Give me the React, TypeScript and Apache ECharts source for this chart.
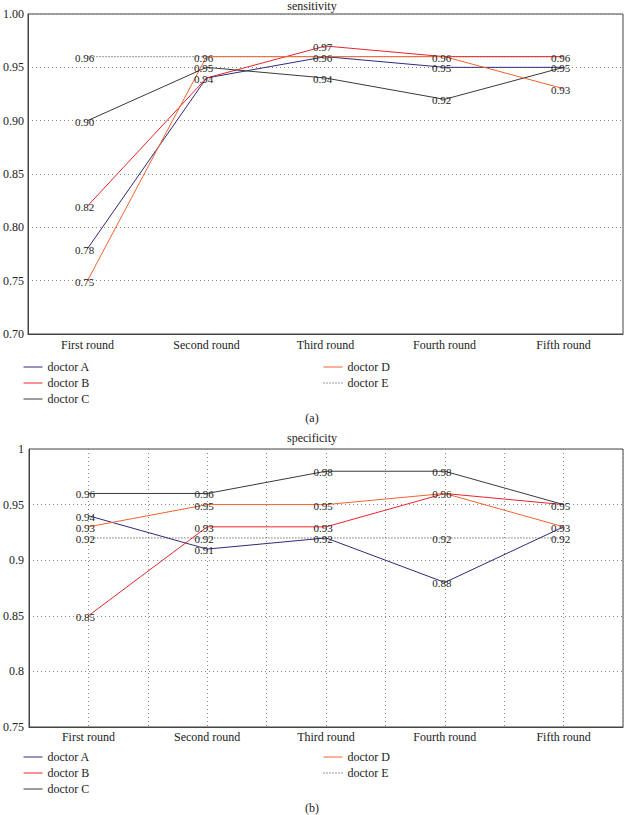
import React, { useEffect, useRef } from "react";
import * as echarts from "echarts";

const categories = ["First round", "Second round", "Third round", "Fourth round", "Fifth round"];
const doctors = ["doctor A", "doctor B", "doctor C", "doctor D", "doctor E"];
const colors = ["#2e2a78", "#e8252b", "#3a3a3a", "#f3622f", "#333333"];

const sensA = [0.78, 0.94, 0.96, 0.95, 0.95];
const sensB = [0.82, 0.94, 0.97, 0.96, 0.96];
const sensC = [0.9, 0.95, 0.94, 0.92, 0.95];
const sensD = [0.75, 0.96, 0.96, 0.96, 0.93];
const sensE = [0.96, 0.96, 0.96, 0.96, 0.96];

const specA = [0.94, 0.91, 0.92, 0.88, 0.93];
const specB = [0.85, 0.93, 0.93, 0.96, 0.95];
const specC = [0.96, 0.96, 0.98, 0.98, 0.95];
const specD = [0.93, 0.95, 0.95, 0.96, 0.93];
const specE = [0.92, 0.92, 0.92, 0.92, 0.92];

const FONT = "'Liberation Serif', 'DejaVu Serif', serif";
const TXT = "#222";

function buildSeries(values: number[][], gridIdx: number, xAxisIndex: number) {
  return values.map((arr, i) => ({
    type: "line",
    name: doctors[i],
    xAxisIndex,
    yAxisIndex: gridIdx,
    symbol: "circle",
    symbolSize: 0,
    showSymbol: true,
    color: colors[i],
    lineStyle: {
      color: colors[i],
      width: 1,
      type: i === 4 ? [1, 2] : "solid",
    },
    label: {
      position: "inside",
      offset: [-3, 1],
      fontFamily: FONT,
      fontSize: 11,
      color: TXT,
      formatter: (p: any) => Number(p.value).toFixed(2),
    },
    data: arr.map((v, j) => ({
      value: v,
      label: { show: !values.slice(0, i).some((a) => a[j] === v) },
    })),
    z: i === 4 ? 1 : 2,
  }));
}

const gridLine = { show: true, lineStyle: { color: "#888", width: 1, type: [1, 3] } };

export default function App() {
  const ref = useRef<HTMLDivElement>(null);
  useEffect(() => {
    if (!ref.current) return;
    const chart = echarts.init(ref.current, undefined, { renderer: "svg" });
    const legendCommon = {
      orient: "vertical",
      itemWidth: 19,
      itemHeight: 10,
      itemGap: 4,
      padding: 0,
      textStyle: { fontFamily: FONT, fontSize: 12, color: TXT },
      itemStyle: { opacity: 0 },
      lineStyle: { width: 1 },
    };
    const titleText = { fontFamily: FONT, fontSize: 12, color: TXT, fontWeight: "normal" };
    chart.setOption({
      animation: false,
      backgroundColor: "#fff",
      textStyle: { fontFamily: FONT },
      title: [
        { text: "sensitivity", left: "center", top: 0, padding: 0, textStyle: titleText },
        { text: "(a)", left: "center", top: 412, padding: 0, textStyle: titleText },
        { text: "specificity", left: "center", top: 432, padding: 0, textStyle: titleText },
        { text: "(b)", left: "center", top: 802, padding: 0, textStyle: titleText },
      ],
      legend: [
        { ...legendCommon, data: doctors.slice(0, 3), left: 23, top: 361 },
        { ...legendCommon, data: doctors.slice(3), left: 323, top: 361 },
        { ...legendCommon, data: doctors.slice(0, 3), left: 23, top: 751 },
        { ...legendCommon, data: doctors.slice(3), left: 323, top: 751 },
      ],
      grid: [
        { left: 23, right: 1, top: 14, height: 320, show: true, borderColor: "#444", borderWidth: 1 },
        { left: 23, right: 1, top: 449, height: 278, show: true, borderColor: "#444", borderWidth: 1 },
      ],
      xAxis: [
        {
          type: "category",
          gridIndex: 0,
          data: categories,
          boundaryGap: true,
          axisLine: { lineStyle: { color: "#444" } },
          axisTick: { show: false },
          axisLabel: { margin: 5, fontFamily: FONT, fontSize: 12, color: TXT },
          splitLine: { show: false },
        },
        {
          type: "category",
          gridIndex: 1,
          data: categories,
          boundaryGap: true,
          axisLine: { lineStyle: { color: "#444" } },
          axisTick: { show: false },
          axisLabel: { margin: 4, fontFamily: FONT, fontSize: 12, color: TXT },
          splitLine: { show: false },
        },
        {
          type: "value",
          gridIndex: 1,
          position: "bottom",
          min: 0,
          max: 10,
          interval: 1,
          axisLine: { show: false },
          axisTick: { show: false },
          axisLabel: { show: false },
          splitLine: gridLine,
        },
      ],
      yAxis: [
        {
          type: "value",
          gridIndex: 0,
          min: 0.7,
          max: 1.0,
          interval: 0.05,
          axisLine: { show: true, lineStyle: { color: "#444" } },
          axisTick: { show: false },
          axisLabel: {
            margin: 4,
            fontFamily: FONT,
            fontSize: 12,
            color: TXT,
            formatter: (v: number) => v.toFixed(2),
          },
          splitLine: gridLine,
        },
        {
          type: "value",
          gridIndex: 1,
          min: 0.75,
          max: 1.0,
          interval: 0.05,
          axisLine: { show: true, lineStyle: { color: "#444" } },
          axisTick: { show: false },
          axisLabel: {
            margin: 5,
            fontFamily: FONT,
            fontSize: 12,
            color: TXT,
            formatter: (v: number) => String(parseFloat(v.toFixed(2))),
          },
          splitLine: gridLine,
        },
      ],
      series: [
        ...buildSeries([sensA, sensB, sensC, sensD, sensE], 0, 0),
        ...buildSeries([specA, specB, specC, specD, specE], 1, 1),
      ],
    });
    return () => chart.dispose();
  }, []);
  return (
    <div
      ref={ref}
      style={{ position: "fixed", left: 0, top: 0, width: 624, height: 815, background: "#fff" }}
    />
  );
}
